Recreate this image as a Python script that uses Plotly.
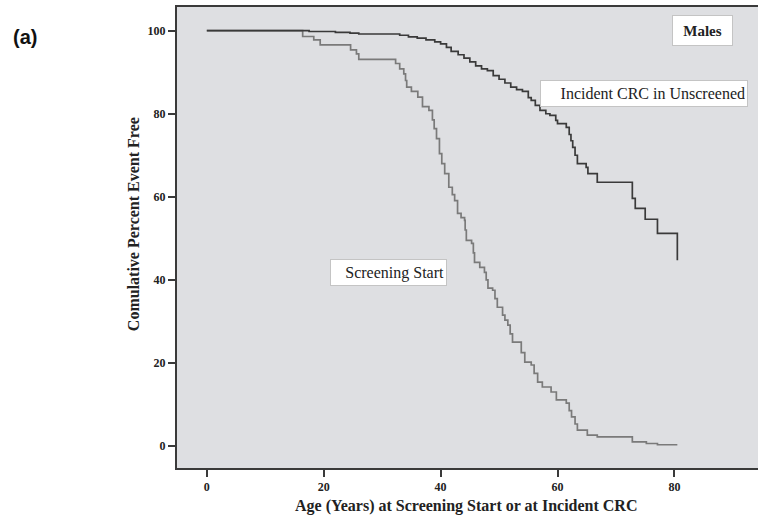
import plotly.graph_objects as go

# Kaplan-Meier style step data
unscreened_age = [0, 17.5, 22, 24.5, 26, 33, 34.5, 36, 37.5, 39, 40, 41, 41.8, 43, 44, 45, 46,
                  47, 48, 49, 50, 51, 52, 53, 54, 55, 55.5, 56.2, 57, 58, 58.7, 59.7, 60,
                  61.5, 62, 62.3, 62.6, 63, 63.4, 64.9, 65.2, 66.8, 72.8, 73.3, 75, 77.1, 80.5]
unscreened_pct = [100, 99.8, 99.6, 99.4, 99.2, 98.9, 98.5, 98.2, 97.8, 97.3, 96.8, 96.0, 95.0,
                  94.2, 93.4, 92.5, 91.5, 90.8, 90.4, 89.2, 88.3, 87.4, 86.4, 85.8, 85.4, 83.9,
                  83.2, 82.0, 80.8, 80.0, 79.6, 78.4, 77.6, 76.7, 75.0, 73.5, 71.9, 70.0, 68.0,
                  67.1, 65.6, 63.5, 59.6, 57.2, 54.6, 51.2, 44.7]

screening_age = [0, 16.4, 18.3, 19.4, 24.6, 25.6, 26.0, 32.3, 33.0, 33.7, 34.0, 34.2, 35.0,
                 36.1, 36.9, 38.0, 38.6, 38.9, 39.3, 39.8, 40.2, 40.7, 41.4, 42.0, 42.4, 42.9,
                 43.5, 44.1, 44.2, 44.4, 45.3, 45.6, 45.8, 46.7, 47.5, 47.8, 48.1, 48.9, 49.3,
                 49.7, 50.6, 51.0, 51.5, 51.9, 52.3, 53.8, 54.4, 55.5, 56.0, 56.6, 57.4, 58.9,
                 59.8, 61.5, 62.0, 62.4, 63.0, 63.4, 65.1, 66.8, 72.8, 75.2, 77.1, 80.5]
screening_pct = [100, 98.6, 97.8, 96.6, 95.4, 94.4, 93.1, 92.1, 90.8, 89.6, 88.0, 86.4, 85.4,
                 84.0, 81.7, 80.8, 78.5, 76.4, 74.0, 70.4, 68.0, 65.6, 62.3, 60.5, 59.1, 56.0,
                 55.0, 54.3, 52.0, 49.5, 48.8, 46.5, 44.2, 43.0, 41.8, 40.0, 38.0, 37.5, 35.5,
                 33.4, 31.5, 30.3, 29.1, 27.0, 25.0, 22.5, 20.2, 19.5, 17.5, 15.4, 14.2, 13.0,
                 11.1, 10.3, 8.5, 7.0, 5.3, 3.8, 2.6, 2.2, 1.0, 0.6, 0.3, 0.3]

x_ticks = [0, 20, 40, 60, 80]
y_ticks = [0, 20, 40, 60, 80, 100]

SERIF = "Liberation Serif, Times New Roman, serif"

fig = go.Figure()
fig.add_trace(go.Scatter(x=screening_age, y=screening_pct, mode="lines", line_shape="hv",
                         line=dict(color="#7a7a7a", width=1.7), showlegend=False))
fig.add_trace(go.Scatter(x=unscreened_age, y=unscreened_pct, mode="lines", line_shape="hv",
                         line=dict(color="#3a3a3a", width=1.7), showlegend=False))

axis_common = dict(showgrid=False, zeroline=False, showline=True, linecolor="#3a3a3a",
                   linewidth=2, ticks="outside", ticklen=7, tickwidth=2, tickcolor="#3a3a3a",
                   tickfont=dict(family=SERIF, size=12, color="#222", weight="bold"))

fig.update_layout(
    width=758, height=520,
    margin=dict(l=177, r=0, t=7, b=52),
    paper_bgcolor="white", plot_bgcolor="#dedfe2",
    xaxis=dict(range=[-5.1, 94.3], tickvals=x_ticks, mirror=True, **axis_common),
    yaxis=dict(range=[-5.3, 105.7], tickvals=y_ticks, mirror=False, **axis_common),
    annotations=[
        dict(text="Males", x=84.8, y=100.1, xref="x", yref="y", showarrow=False,
             xanchor="center", yanchor="middle",
             width=55, height=25, borderpad=2, borderwidth=1, bordercolor="#c4c4c4",
             bgcolor="white", font=dict(family=SERIF, size=15, color="#222", weight="bold")),
        dict(text="Incident CRC in Unscreened", x=74.8, y=84.9, xref="x", yref="y",
             xanchor="center", yanchor="middle",
             showarrow=False, width=202, height=21, align="right", borderpad=2,
             borderwidth=1, bordercolor="#c4c4c4", bgcolor="white",
             font=dict(family=SERIF, size=16, color="#222")),
        dict(text="Screening Start", x=31.1, y=41.8, xref="x", yref="y", showarrow=False,
             xanchor="center", yanchor="middle",
             width=111, height=21, align="right", borderpad=2, borderwidth=1,
             bordercolor="#c4c4c4", bgcolor="white",
             font=dict(family=SERIF, size=16, color="#222")),
        dict(text="Comulative Percent Event Free", x=-0.0757, y=0.529, xref="paper",
             yref="paper", showarrow=False, textangle=-90, xanchor="center", yanchor="middle",
             font=dict(family=SERIF, size=16, color="#222", weight="bold")),
        dict(text="Age (Years) at Screening Start or at Incident CRC", x=0.497, y=-0.082,
             xref="paper", yref="paper", showarrow=False, xanchor="center", yanchor="middle",
             font=dict(family=SERIF, size=16, color="#222", weight="bold")),
        dict(text="(a)", x=-0.261, y=0.935, xref="paper", yref="paper", showarrow=False,
             xanchor="center", yanchor="middle",
             font=dict(family="Liberation Sans, Arial, sans-serif", size=20, color="#111",
                       weight="bold")),
    ],
)

fig.write_html("out.html")
